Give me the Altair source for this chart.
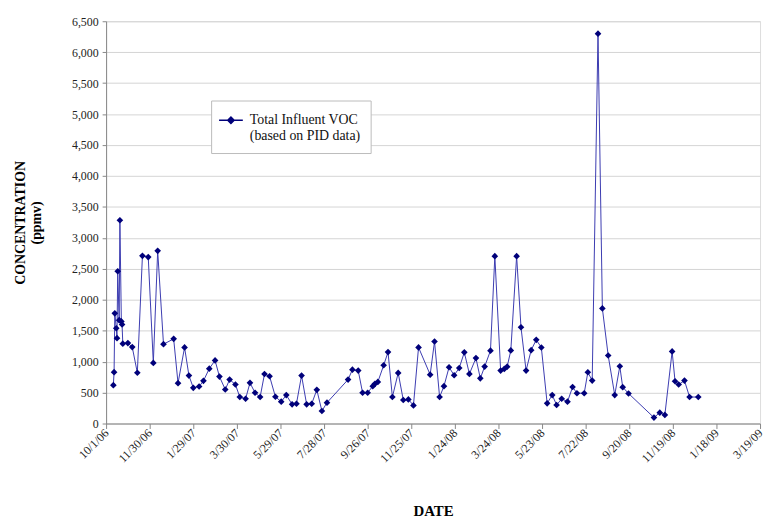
import altair as alt
import pandas as pd

dates = [
    "10/11/2006", "10/12/2006", "10/13/2006", "10/15/2006", "10/16/2006", "10/17/2006",
    "10/19/2006", "10/20/2006", "10/22/2006", "10/23/2006", "10/24/2006", "10/31/2006",
    "11/6/2006", "11/13/2006", "11/20/2006", "11/28/2006", "12/5/2006", "12/11/2006",
    "12/19/2006", "1/2/2007", "1/8/2007", "1/17/2007", "1/23/2007", "1/29/2007",
    "2/6/2007", "2/12/2007", "2/20/2007", "2/28/2007", "3/6/2007", "3/14/2007",
    "3/20/2007", "3/28/2007", "4/3/2007", "4/11/2007", "4/17/2007", "4/24/2007",
    "5/1/2007", "5/7/2007", "5/14/2007", "5/22/2007", "5/30/2007", "6/6/2007",
    "6/14/2007", "6/20/2007", "6/27/2007", "7/4/2007", "7/11/2007", "7/18/2007",
    "7/25/2007", "8/1/2007", "8/30/2007", "9/5/2007", "9/13/2007", "9/19/2007",
    "9/26/2007", "10/3/2007", "10/6/2007", "10/10/2007", "10/18/2007", "10/24/2007",
    "10/30/2007", "11/7/2007", "11/14/2007", "11/21/2007", "11/28/2007", "12/5/2007",
    "12/21/2007", "12/27/2007", "1/3/2008", "1/9/2008", "1/16/2008", "1/23/2008",
    "1/30/2008", "2/6/2008", "2/13/2008", "2/22/2008", "2/28/2008", "3/5/2008",
    "3/13/2008", "3/19/2008", "3/27/2008", "4/1/2008", "4/5/2008", "4/10/2008",
    "4/18/2008", "4/24/2008", "5/1/2008", "5/8/2008", "5/15/2008", "5/22/2008",
    "5/30/2008", "6/6/2008", "6/12/2008", "6/19/2008", "6/27/2008", "7/4/2008",
    "7/10/2008", "7/20/2008", "7/25/2008", "7/31/2008", "8/8/2008", "8/14/2008",
    "8/22/2008", "8/31/2008", "9/7/2008", "9/11/2008", "9/19/2008", "10/24/2008",
    "11/1/2008", "11/8/2008", "11/18/2008", "11/22/2008", "11/27/2008", "12/5/2008",
    "12/12/2008", "12/24/2008",
]

voc_ppmv = [
    620, 830, 1780, 1540, 1380, 2460,
    1670, 3285, 1650, 1600, 1290, 1300,
    1235, 820, 2710, 2690, 980, 2790,
    1282, 1368, 652, 1230, 775, 577,
    598, 690, 887, 1020, 758, 550,
    710, 630, 428, 400, 657, 497,
    428, 800, 764, 433, 353, 460,
    310, 320, 775, 310, 320, 545,
    203, 337, 710, 870, 855, 497,
    497, 604, 641, 673, 941, 1154,
    428, 818, 380, 390, 293, 1230,
    790, 1325, 428, 604, 909, 780,
    898, 1150, 802, 1058, 730, 920,
    1178, 2704, 855, 882, 919, 1181,
    2704, 1555, 855, 1186, 1352, 1229,
    326, 460, 300, 400, 353, 590,
    490, 490, 829, 694, 6300, 1860,
    1100, 460, 925, 588, 486, 96,
    176, 139, 1165, 684, 630, 694,
    428, 428,
]

series_name = "Total Influent VOC (based on PID data)"

# x-axis tick dates (every 60 days)
tick_dates = [
    (2006, 10, 1), (2006, 11, 30), (2007, 1, 29), (2007, 3, 30), (2007, 5, 29),
    (2007, 7, 28), (2007, 9, 26), (2007, 11, 25), (2008, 1, 24), (2008, 3, 24),
    (2008, 5, 23), (2008, 7, 22), (2008, 9, 20), (2008, 11, 19), (2009, 1, 18),
    (2009, 3, 19),
]
y_ticks = list(range(0, 6501, 500))

df = pd.DataFrame({"date": dates, "voc": voc_ppmv, "series": [series_name] * len(dates)})

FONT = "Liberation Serif"
line_color = "#3b3bb0"
point_color = "#00007a"

tick_vals = [alt.DateTime(year=y, month=m, date=d) for (y, m, d) in tick_dates]

x_enc = alt.X(
    "date:T",
    scale=alt.Scale(domain=[tick_vals[0], tick_vals[-1]], nice=False),
    axis=alt.Axis(
        values=tick_vals, format="%-m/%-d/%y", labelAngle=-45, grid=False,
        title="DATE", titleFont=FONT, titleFontSize=15, titleFontWeight="bold",
        titlePadding=40, labelFont=FONT, labelFontSize=12, labelColor="#222",
        domainColor="#888", tickColor="#888", tickSize=5, labelPadding=2,
        labelAlign="right", labelBaseline="middle",
    ),
)
y_enc = alt.Y(
    "voc:Q",
    scale=alt.Scale(domain=[0, 6500], nice=False),
    axis=alt.Axis(
        values=y_ticks, format=",.0f", grid=True, gridColor="#d4d4d4",
        title=["CONCENTRATION", "(ppmv)"], titleFont=FONT, titleFontSize=14,
        titleFontWeight="bold", titlePadding=28, labelFont=FONT, labelFontSize=12,
        labelColor="#222", domainColor="#888", tickColor="#888", tickSize=4,
        labelPadding=4,
    ),
)

color_enc = alt.Color(
    "series:N",
    scale=alt.Scale(range=[point_color]),
    legend=alt.Legend(
        title=None, orient="none", legendX=106, legendY=80,
        labelExpr="['Total Influent VOC', '(based on PID data)']",
        labelFont=FONT, labelFontSize=14, labelColor="#111",
        symbolType="M-1.3,0L1.3,0M-0.35,0L0,-0.35L0.35,0L0,0.35Z",
        symbolSize=340, symbolStrokeWidth=1.5, symbolStrokeColor=point_color,
        symbolFillColor=point_color,
        strokeColor="#bbbbbb", fillColor="white", padding=10, labelOffset=9,
    ),
)

lines = alt.Chart(df).mark_line(color=line_color, strokeWidth=1).encode(
    x=x_enc, y=y_enc, detail="series:N"
)
points = alt.Chart(df).mark_point(
    shape="diamond", filled=True, size=45, opacity=1
).encode(x=x_enc, y=y_enc, color=color_enc)

chart = (lines + points).properties(
    width=660, height=406,
    padding={"top": 5, "left": 6, "right": 0, "bottom": 0},
).configure_view(stroke=None).configure(background="white")

chart.save("out.html", embed_options={"renderer": "svg", "actions": False})
